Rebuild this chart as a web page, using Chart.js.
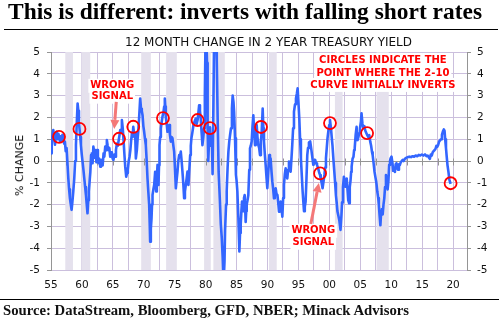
<!DOCTYPE html>
<html><head><meta charset="utf-8">
<script src="https://cdn.jsdelivr.net/npm/chart.js@4.4.1/dist/chart.umd.min.js"></script>
<style>
html,body{margin:0;padding:0;background:#fff;width:502px;height:325px;overflow:hidden;}
#wrap{position:relative;width:502px;height:325px;}
canvas{position:absolute;left:0;top:0;}
.t{position:absolute;white-space:nowrap;transform-origin:0 0;line-height:1;}
#title{left:8px;top:-1px;font:bold 22.5px "Liberation Serif";color:#000;}
#sub{top:35px;font:11.5px "DejaVu Sans";color:#111;}
#source{left:3px;top:303px;font:bold 14px "Liberation Serif";color:#111;}
#ytitle{font:11px "DejaVu Sans";color:#111;transform-origin:50% 50%;}
.rule{position:absolute;height:1px;background:#000;}
</style></head>
<body><div id="wrap">
<canvas id="c" width="502" height="325"></canvas>
<div class="t" id="title" data-w="474">This is different: inverts with falling short rates</div>
<div class="rule" style="left:4px;top:29px;width:494px;"></div>
<div class="t" id="sub" data-w="287" data-cx="268.5">12 MONTH CHANGE IN 2 YEAR TREASURY YIELD</div>
<div class="t" id="ytitle">% CHANGE</div>
<div class="rule" style="left:0px;top:299px;width:499px;"></div>
<div class="t" id="source" data-w="406">Source: DataStream, Bloomberg, GFD, NBER; Minack Advisors</div>
</div>
<script>
// ---------------- data ----------------
const years = [
1955.0,1955.12,1955.25,1955.37,1955.5,1955.64,1955.78,1955.9,1956.05,1956.18,1956.3,1956.45,1956.58,1956.7,1956.85,1956.98,
1957.12,1957.25,1957.38,1957.52,1957.66,1957.8,1957.93,1958.06,1958.2,1958.33,1958.45,1958.6,1958.76,1958.9,1959.03,1959.16,
1959.3,1959.42,1959.52,1959.62,1959.73,1959.84,1959.97,1960.1,1960.24,1960.38,1960.52,1960.65,1960.78,1960.9,1961.02,1961.13,
1961.25,1961.36,1961.48,1961.6,1961.72,1961.85,1961.98,1962.1,1962.22,1962.34,1962.45,1962.58,1962.7,1962.83,1962.96,1963.08,
1963.2,1963.35,1963.5,1963.62,1963.77,1963.9,1964.03,1964.16,1964.3,1964.43,1964.57,1964.7,1964.84,1964.97,1965.1,1965.24,
1965.38,1965.5,1965.65,1965.8,1965.97,1966.08,1966.2,1966.33,1966.46,1966.6,1966.73,1966.87,1967.0,1967.16,1967.3,1967.42,
1967.56,1967.7,1967.83,1967.96,1968.1,1968.2,1968.3,1968.45,1968.6,1968.72,1968.88,1969.0,1969.1,1969.25,1969.42,1969.55,
1969.68,1969.8,1969.93,1970.06,1970.2,1970.33,1970.47,1970.6,1970.73,1970.87,1970.95,1971.03,1971.14,1971.25,1971.33,1971.41,
1971.55,1971.68,1971.84,1972.0,1972.11,1972.22,1972.3,1972.38,1972.46,1972.54,1972.65,1972.76,1972.9,1973.02,1973.19,1973.3,
1973.4,1973.48,1973.56,1973.7,1973.83,1973.96,1974.1,1974.23,1974.37,1974.5,1974.64,1974.78,1974.91,1975.05,1975.18,1975.3,
1975.45,1975.58,1975.72,1975.85,1975.98,1976.12,1976.25,1976.4,1976.52,1976.65,1976.79,1976.93,1977.06,1977.14,1977.22,1977.36,
1977.5,1977.6,1977.7,1977.85,1978.03,1978.2,1978.4,1978.55,1978.7,1978.82,1978.95,1979.08,1979.2,1979.35,1979.48,1979.62,
1979.75,1979.87,1979.97,1980.1,1980.22,1980.32,1980.42,1980.55,1980.7,1980.85,1981.0,1981.12,1981.25,1981.38,1981.55,1981.7,
1981.8,1981.95,1982.1,1982.3,1982.45,1982.6,1982.75,1982.9,1983.05,1983.14,1983.3,1983.4,1983.55,1983.68,1983.82,1983.95,
1984.1,1984.25,1984.37,1984.5,1984.6,1984.75,1984.9,1985.0,1985.13,1985.29,1985.45,1985.56,1985.67,1985.78,1985.88,1986.0,
1986.1,1986.2,1986.31,1986.47,1986.56,1986.64,1986.77,1986.9,1987.05,1987.17,1987.3,1987.44,1987.58,1987.71,1987.85,1987.98,
1988.1,1988.25,1988.38,1988.52,1988.65,1988.79,1988.93,1989.06,1989.22,1989.33,1989.43,1989.57,1989.7,1989.85,1989.97,1990.1,
1990.3,1990.4,1990.5,1990.65,1990.78,1990.92,1991.05,1991.18,1991.32,1991.45,1991.6,1991.73,1991.86,1992.0,1992.13,1992.27,
1992.4,1992.53,1992.66,1992.8,1992.93,1993.07,1993.2,1993.33,1993.47,1993.6,1993.74,1993.87,1994.0,1994.14,1994.28,1994.45,
1994.6,1994.75,1994.87,1995.0,1995.14,1995.27,1995.4,1995.55,1995.68,1995.8,1995.9,1996.03,1996.16,1996.3,1996.43,1996.55,
1996.7,1996.9,1997.05,1997.2,1997.4,1997.55,1997.7,1997.85,1998.0,1998.2,1998.35,1998.5,1998.6,1998.75,1998.9,1999.05,
1999.2,1999.32,1999.45,1999.58,1999.7,1999.85,1999.99,2000.1,2000.26,2000.38,2000.5,2000.65,2000.8,2000.93,2001.06,2001.18,
2001.3,2001.45,2001.6,2001.8,2001.95,2002.05,2002.2,2002.35,2002.47,2002.57,2002.7,2002.8,2002.93,2003.05,2003.2,2003.3,
2003.42,2003.52,2003.6,2003.75,2003.9,2004.0,2004.1,2004.25,2004.4,2004.56,2004.7,2004.8,2004.95,2005.1,2005.2,2005.35,
2005.5,2005.65,2005.8,2005.95,2006.1,2006.3,2006.45,2006.6,2006.75,2006.9,2007.0,2007.15,2007.3,2007.45,2007.6,2007.75,
2007.9,2008.0,2008.12,2008.25,2008.38,2008.5,2008.62,2008.75,2008.88,2009.0,2009.15,2009.28,2009.42,2009.55,2009.67,2009.8,
2009.9,2010.05,2010.2,2010.32,2010.45,2010.6,2010.72,2010.85,2011.0,2011.12,2011.25,2011.4,2011.55,2011.7,2011.85,2012.0,
2012.2,2012.45,2012.7,2012.95,2013.2,2013.45,2013.7,2013.95,2014.2,2014.45,2014.7,2014.95,2015.2,2015.45,2015.7,2015.9,
2016.1,2016.25,2016.4,2016.55,2016.7,2016.85,2017.0,2017.15,2017.3,2017.45,2017.6,2017.75,2017.9,2018.05,2018.2,2018.35,
2018.5,2018.62,2018.72,2018.85,2018.97,2019.1,2019.25,2019.4,2019.6
];
const change = [
0.35,0.9,1.2,1.42,1.0,0.75,1.1,1.34,1.0,1.25,1.15,0.9,1.1,0.95,1.2,1.19,
0.8,0.89,0.45,0.6,-0.1,-0.8,-1.3,-1.71,-2.0,-2.24,-1.9,-1.4,-0.8,0.0,0.73,1.7,
2.64,2.3,1.8,1.45,1.1,0.73,0.3,-0.03,-0.4,-0.8,-1.2,-1.56,-2.0,-2.4,-1.8,-1.4,
-0.9,-0.5,0.27,0.35,-0.1,0.66,0.4,0.15,0.5,-0.05,0.5,0.2,-0.1,0.1,-0.26,0.0,
0.05,-0.2,0.35,0.2,0.66,0.5,0.96,0.7,0.5,0.6,0.2,0.4,0.35,0.1,0.05,0.3,
0.2,0.5,0.8,0.7,1.0,1.2,1.42,1.3,1.88,1.5,0.96,0.3,-0.26,-0.72,-0.55,-0.41,
0.0,0.2,0.5,0.96,1.3,1.1,1.57,1.2,1.27,0.12,0.5,1.0,1.34,2.0,2.87,2.4,
2.3,2.1,1.6,1.34,1.0,0.73,0.0,-0.8,-1.4,-2.0,-2.8,-3.7,-3.1,-2.63,-2.0,-1.56,
-1.3,-1.1,-0.49,-1.4,-0.8,-0.18,-0.6,-1.1,-0.2,0.73,1.1,1.5,1.8,2.03,2.26,2.5,
2.87,2.5,2.03,1.7,1.34,1.5,1.65,1.2,0.89,1.1,1.04,0.7,0.43,-0.4,-1.25,-0.9,
-0.49,0.0,0.27,0.2,0.43,0.0,-0.49,-1.1,-1.71,-1.4,-1.1,-0.8,-0.49,-0.8,-1.1,-0.4,
0.27,0.7,1.04,1.3,1.65,1.8,1.95,1.7,1.88,2.2,2.56,2.3,1.95,1.3,0.73,1.1,
1.5,3.0,5.3,6.0,4.5,1.5,0.0,0.9,1.55,0.7,1.2,-0.6,2.5,6.0,6.5,5.6,
4.6,1.8,-0.5,-1.8,-2.9,-3.5,-4.4,-5.6,-4.6,-3.2,-2.0,-1.4,-0.3,0.43,0.9,1.2,
1.5,2.4,3.0,2.7,2.26,1.04,-0.64,-0.9,-1.4,-2.6,-4.15,-3.3,-2.9,-2.3,-1.86,-2.0,
-2.3,-1.7,-1.56,-2.8,-2.3,-2.0,-1.8,-1.56,-0.4,0.58,0.7,0.89,1.6,2.1,1.3,0.73,
1.2,1.65,1.1,0.73,0.6,0.27,0.9,1.34,2.41,1.5,0.89,0.3,-0.18,-0.8,-1.25,-0.6,
0.27,0.0,0.12,-0.5,-0.95,-1.3,-1.71,-1.4,-1.25,-1.5,-1.56,-1.9,-2.32,-2.0,-1.86,-2.2,
-2.55,-1.7,-1.1,-0.6,-0.34,-0.6,-0.8,-0.4,-0.03,-0.3,-0.49,0.1,0.73,1.5,2.26,2.6,
2.87,3.1,3.33,2.7,1.95,1.0,0.12,-0.7,-1.4,-1.9,-2.3,-2.1,-1.86,-0.8,0.27,0.6,
0.85,0.9,0.6,0.27,-0.18,-0.05,0.05,-0.1,-0.18,-0.35,-0.53,-0.65,-0.8,-1.0,-1.25,-0.95,
-0.64,-0.3,0.12,0.6,1.04,1.4,1.65,1.88,1.5,1.1,0.73,0.1,-0.49,-1.0,-1.56,-1.9,
-2.3,-2.5,-2.7,-3.16,-2.5,-1.9,-1.2,-0.72,-1.0,-1.18,-0.9,-0.8,-1.3,-1.8,-1.94,-1.2,
-0.9,-0.5,-0.26,0.1,0.2,0.5,0.6,1.2,1.57,0.96,1.1,1.27,1.5,1.8,2.19,1.7,
1.5,1.6,1.4,1.3,1.2,1.1,1.19,0.9,0.7,0.4,0.27,-0.1,-0.5,-0.75,-1.0,-1.4,
-1.7,-2.0,-2.5,-2.95,-2.3,-2.2,-2.45,-2.0,-1.7,-1.2,-0.64,-0.9,-1.3,-0.9,-0.18,0.0,
0.12,0.2,-0.1,-0.45,-0.35,-0.5,-0.15,-0.1,-0.35,-0.4,-0.15,-0.18,-0.05,0.0,0.05,0.0,
0.1,0.15,0.18,0.2,0.18,0.22,0.2,0.25,0.22,0.28,0.25,0.3,0.25,0.3,0.22,0.25,
0.15,0.1,0.3,0.25,0.4,0.45,0.5,0.55,0.7,0.65,0.75,0.9,0.95,1.0,1.2,1.35,
1.45,1.38,1.0,0.6,0.2,-0.2,-0.5,-0.85,-1.05
];
// points where the 2-10 curve initially inverts
const circleYears  = [1956.3,1959.6,1966.0,1968.3,1973.1,1978.7,1980.7,1988.95,1998.5,2000.1,2006.1,2019.6];
const circleChange = [1.11,1.47,1.02,1.57,1.97,1.88,1.51,1.56,-0.57,1.74,1.28,-1.02];
// NBER recession shading (as drawn)
const recessionStart = [1957.31,1959.89,1969.58,1973.61,1979.75,1981.25,1990.24,2000.9,2007.63];
const recessionEnd   = [1958.55,1961.34,1971.14,1975.34,1980.83,1983.1,1991.49,2002.14,2009.6];
// tick labels
const labelYears  = [1955,1960,1965,1970,1975,1980,1985,1990,1995,2000,2005,2010,2015,2020];
const xTickLabels = ['55','60','65','70','75','80','85','90','95','00','05','10','15','20'];
const yTicks = [-5,-4,-3,-2,-1,0,1,2,3,4,5];

// ---------------- annotations (data coordinates) ----------------
const notes = [
  {x:1964.9, y:3.45, text:'WRONG'}, {x:1964.9, y:2.95, text:'SIGNAL'},
  {x:1997.4, y:-3.2, text:'WRONG'}, {x:1997.4, y:-3.75, text:'SIGNAL'},
  {x:2008.65, y:4.63, text:'CIRCLES INDICATE THE'},
  {x:2008.65, y:4.04, text:'POINT WHERE THE 2-10'},
  {x:2008.65, y:3.49, text:'CURVE INITIALLY INVERTS'}
];
const arrows = [
  {from:[1965.55,2.71], to:[1965.22,1.47]},
  {from:[1997.0,-2.89], to:[1998.3,-1.01]}
];

const gridYears = [];
for (let v = 1955; v <= 2020; v += 2.5) gridYears.push(v);

const GRID = '#cbbfdd';
const AXIS = '#959595';
const FONT = 'bold 10px "DejaVu Sans"';

const decor = {
  id: 'decor',
  beforeDatasetsDraw(chart) {
    const {ctx, chartArea: a, scales: {x, y}} = chart;
    ctx.save();
    ctx.fillStyle = '#e5e1ed';
    recessionStart.forEach((s, i) => {
      const x0 = x.getPixelForValue(s), x1 = x.getPixelForValue(recessionEnd[i]);
      ctx.fillRect(x0, a.top, x1 - x0, a.bottom - a.top);
    });
    // white boxes behind the notes
    ctx.font = FONT;
    ctx.fillStyle = '#fff';
    notes.forEach(n => {
      const w = ctx.measureText(n.text).width;
      const px = x.getPixelForValue(n.x), py = y.getPixelForValue(n.y);
      ctx.fillRect(px - w / 2 - 2, py - 7, w + 4, 14);
    });
    // zero axis with small ticks
    const y0 = Math.round(y.getPixelForValue(0)) + 0.5;
    ctx.strokeStyle = AXIS; ctx.lineWidth = 1;
    ctx.beginPath();
    ctx.moveTo(a.left, y0); ctx.lineTo(a.right, y0);
    gridYears.forEach(v => {
      const px = Math.round(x.getPixelForValue(v)) + 0.5;
      ctx.moveTo(px, y0 - 3); ctx.lineTo(px, y0 + 4);
    });
    ctx.stroke();
    ctx.restore();
  },
  afterDatasetsDraw(chart) {
    const {ctx, scales: {x, y}} = chart;
    ctx.save();
    // arrows
    ctx.strokeStyle = '#f47878'; ctx.fillStyle = '#f47878'; ctx.lineWidth = 3;
    arrows.forEach(ar => {
      const x0 = x.getPixelForValue(ar.from[0]), y0 = y.getPixelForValue(ar.from[1]);
      const x1 = x.getPixelForValue(ar.to[0]), y1 = y.getPixelForValue(ar.to[1]);
      const ang = Math.atan2(y1 - y0, x1 - x0);
      const hl = 9, hw = 4.5;
      const bx = x1 - hl * Math.cos(ang), by = y1 - hl * Math.sin(ang);
      ctx.beginPath(); ctx.moveTo(x0, y0); ctx.lineTo(bx, by); ctx.stroke();
      ctx.beginPath();
      ctx.moveTo(x1, y1);
      ctx.lineTo(bx + hw * Math.sin(ang), by - hw * Math.cos(ang));
      ctx.lineTo(bx - hw * Math.sin(ang), by + hw * Math.cos(ang));
      ctx.closePath(); ctx.fill();
    });
    // notes
    ctx.font = FONT; ctx.fillStyle = '#ff0000';
    ctx.textAlign = 'center'; ctx.textBaseline = 'middle';
    notes.forEach(n => ctx.fillText(n.text, x.getPixelForValue(n.x), y.getPixelForValue(n.y)));
    ctx.restore();
  }
};

const tickFont = {family: '"DejaVu Sans"', size: 10.5};

new Chart(document.getElementById('c'), {
  data: {
    datasets: [
      {
        type: 'scatter', label: 'inversion',
        data: circleYears.map((v, i) => ({x: v, y: circleChange[i]})),
        pointStyle: 'circle', pointRadius: 6, pointBorderWidth: 1.8,
        pointBorderColor: '#ff0000', pointBackgroundColor: 'rgba(0,0,0,0)',
        yAxisID: 'y', order: 0
      },
      {
        type: 'line', label: '12m change',
        data: years.map((v, i) => ({x: v, y: change[i]})),
        borderColor: '#3366ff', borderWidth: 2.6, pointRadius: 0,
        tension: 0, clip: 0, yAxisID: 'y', order: 1,
        borderJoinStyle: 'round'
      }
    ]
  },
  options: {
    responsive: false, animation: false, devicePixelRatio: 1,
    layout: {padding: {top: 52, left: 0, right: 0, bottom: 0}},
    plugins: {legend: {display: false}, tooltip: {enabled: false}},
    scales: {
      x: {
        type: 'linear', min: 1955, max: 2022.25,
        afterBuildTicks: s => { s.ticks = gridYears.map(v => ({value: v})); },
        afterFit: s => { s.height = 55; },
        grid: {color: GRID, drawTicks: false},
        border: {display: false},
        ticks: {
          autoSkip: false, maxRotation: 0, padding: 9, color: '#111', font: tickFont,
          callback: v => { const i = labelYears.indexOf(v); return i >= 0 ? xTickLabels[i] : ''; }
        }
      },
      y: {
        position: 'left', min: -5, max: 5,
        afterBuildTicks: s => { s.ticks = yTicks.map(v => ({value: v})); },
        afterFit: s => { s.width = 51; },
        grid: {color: c => (c.tick && c.tick.value === 0) ? AXIS : GRID, tickColor: AXIS, tickLength: 4},
        border: {color: AXIS},
        ticks: {padding: 7, color: '#111', font: tickFont}
      },
      y2: {
        position: 'right', min: -5, max: 5,
        afterBuildTicks: s => { s.ticks = yTicks.map(v => ({value: v})); },
        afterFit: s => { s.width = 35; },
        grid: {drawOnChartArea: false, tickColor: AXIS, tickLength: 4},
        border: {color: AXIS},
        ticks: {padding: 6, color: '#111', font: tickFont}
      }
    }
  },
  plugins: [decor]
});

// fit the HTML texts
document.querySelectorAll('[data-w]').forEach(el => {
  const w = el.getBoundingClientRect().width;
  const target = parseFloat(el.dataset.w);
  if (el.dataset.cx) el.style.left = (parseFloat(el.dataset.cx) - target / 2) + 'px';
  el.style.transform = 'scaleX(' + (target / w) + ')';
});
const yt = document.getElementById('ytitle');
const r = yt.getBoundingClientRect();
yt.style.left = (20 - r.width / 2) + 'px';
yt.style.top = (165 - r.height / 2) + 'px';
yt.style.transform = 'rotate(-90deg)';
</script>
</body></html>
